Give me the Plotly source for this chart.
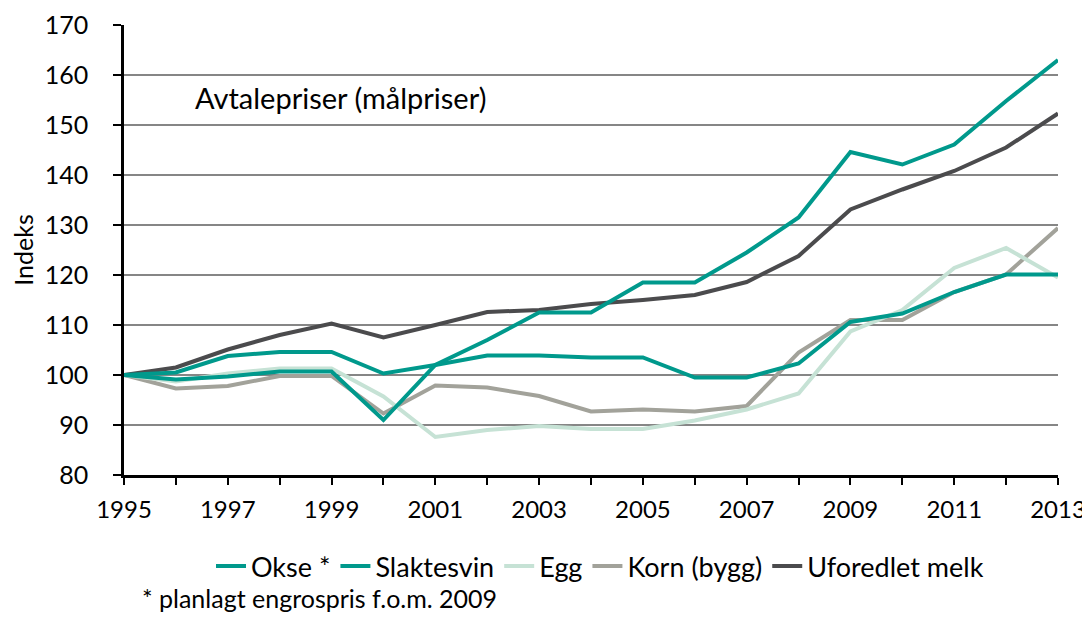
import plotly.graph_objects as go

years = list(range(1995, 2014))

okse = [100, 99.1, 99.7, 100.7, 100.7, 91.0, 102.0, 107.0, 112.5, 112.5, 118.5, 118.5,
        124.5, 131.5, 144.6, 142.1, 146.1, 154.8, 163.0]
slaktesvin = [100, 100.5, 103.8, 104.6, 104.6, 100.3, 102.0, 103.9, 103.9, 103.5, 103.5, 99.5,
              99.5, 102.3, 110.6, 112.3, 116.6, 120.1, 120.1]
egg = [100, 98.7, 100.3, 101.3, 101.3, 95.7, 87.6, 89.0, 89.8, 89.2, 89.2, 90.9,
       93.1, 96.3, 108.7, 113.0, 121.4, 125.4, 119.5]
korn = [100, 97.3, 97.8, 99.8, 99.8, 92.3, 97.9, 97.5, 95.8, 92.7, 93.1, 92.7,
        93.8, 104.5, 111.0, 111.0, 116.6, 120.1, 129.4]
melk = [100, 101.5, 105.1, 108.0, 110.3, 107.5, 110.0, 112.6, 113.0, 114.2, 115.0, 116.0,
        118.6, 123.8, 133.1, 137.1, 140.8, 145.5, 152.3]

series_names = ["Okse *", "Slaktesvin", "Egg", "Korn (bygg)", "Uforedlet melk"]
series_vals = [okse, slaktesvin, egg, korn, melk]
colors = ["#00998C", "#00998C", "#C6E2D5", "#A2A29A", "#4B4B4D"]

y_ticks = list(range(80, 171, 10))
x_ticktext = [str(y) if (y - 1995) % 2 == 0 else "" for y in years]

FONT = "Lato, Carlito, Calibri, sans-serif"

# page is offset by the 8px body margin
W, H = 1090, 625
OFF = 8
L, T, R, B = 124 - OFF, 24.5 - OFF, W - (1058 - OFF), H - (475 - OFF)
pw = W - L - R
ph = H - T - B


def px(xpage):
    return (xpage - OFF - L) / pw


def py(ypage):
    return (H - B - (ypage - OFF)) / ph


fig = go.Figure()
for i in range(len(series_names)):
    fig.add_trace(go.Scatter(
        x=years, y=series_vals[i], mode="lines", name=series_names[i],
        line=dict(color=colors[i], width=4), legendrank=i + 1,
    ))

# z-order: teal lines on top
order = [3, 2, 4, 1, 0]
fig.data = tuple(fig.data[i] for i in order)

fig.update_layout(
    width=W, height=H,
    paper_bgcolor="white", plot_bgcolor="white",
    margin=dict(l=L, r=R, t=T, b=B, autoexpand=False),
    font=dict(family=FONT, size=25, color="black"),
    showlegend=True,
    legend=dict(orientation="h", x=px(600), xanchor="center", y=py(542), yanchor="top",
                font=dict(family=FONT, size=27), itemwidth=30,
                traceorder="normal"),
    xaxis=dict(range=[1995, 2013], tickvals=years, ticktext=x_ticktext,
               showgrid=False, showline=True, linecolor="black", linewidth=2.5,
               ticks="outside", ticklen=7, tickwidth=1.5, tickcolor="black",
               zeroline=False, tickfont=dict(size=24), ticklabelstandoff=4),
    yaxis=dict(range=[80, 170], tickvals=y_ticks, showgrid=True, gridcolor="#868686",
               gridwidth=2, showline=True, linecolor="black", linewidth=2.5,
               ticks="outside", ticklen=8, tickwidth=1.5, tickcolor="black",
               zeroline=False, tickfont=dict(size=25), ticklabelstandoff=20,
               title=dict(text="Indeks", font=dict(size=25), standoff=16)),
    annotations=[
        dict(text="Avtalepriser (målpriser)", x=px(193), y=py(97), xref="paper", yref="paper",
             xanchor="left", yanchor="middle", showarrow=False, font=dict(size=29)),
        dict(text="* planlagt engrospris f.o.m. 2009", x=px(140), y=py(598), xref="paper",
             yref="paper", xanchor="left", yanchor="middle", showarrow=False,
             font=dict(size=25)),
    ],
)

fig.write_html("out.html")
